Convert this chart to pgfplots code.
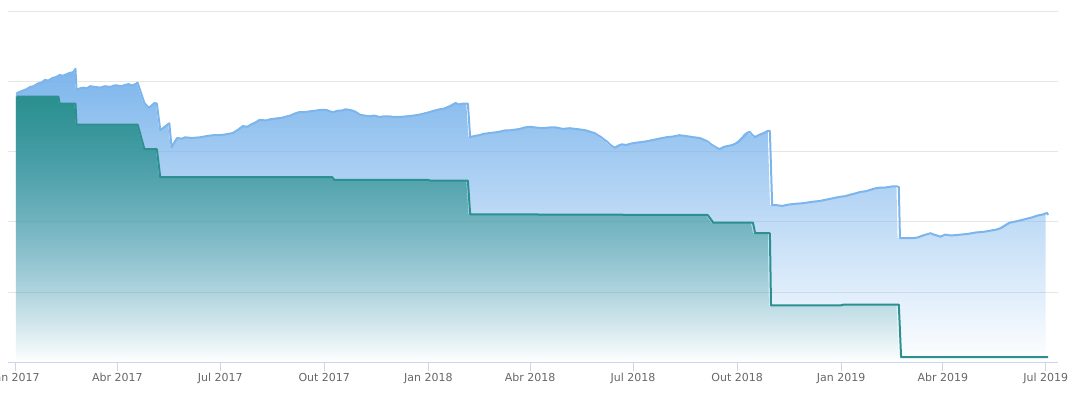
\documentclass[border=0pt]{standalone}
\usepackage{fontspec}
\setmainfont{DejaVu Sans}
\usepackage{pgfplots}
\pgfplotsset{compat=1.18}
\usetikzlibrary{fadings}
\definecolor{hcblue}{HTML}{7CB5EC}
\definecolor{hcteal}{HTML}{2B908F}
\definecolor{gridc}{HTML}{E6E6E6}
\definecolor{axisc}{HTML}{CCD6EB}
\definecolor{labc}{HTML}{666666}
\tikzfading[name=fadedown, top color=transparent!0, bottom color=transparent!100]

\pgfplotstableread{
d v
1 3.84
4 3.86
7 3.88
10 3.90
13 3.93
16 3.94
20 3.98
23 3.99
26 4.03
29 4.02
33 4.06
36 4.07
39 4.10
42 4.09
45 4.11
48 4.13
51 4.14
52 4.16
53 4.19
54 3.89
57 3.91
60 3.92
63 3.91
66 3.94
70 3.93
75 3.92
79 3.94
84 3.93
87 3.95
90 3.95
94 3.94
97 3.96
100 3.97
103 3.95
106 3.97
108 3.99
114 3.70
118 3.63
123 3.70
125 3.69
128 3.31
136 3.41
138 3.07
143 3.20
147 3.19
150 3.21
156 3.20
163 3.21
170 3.23
175 3.24
180 3.24
185 3.25
192 3.27
197 3.32
201 3.37
205 3.36
208 3.39
212 3.42
216 3.46
221 3.45
226 3.47
231 3.48
236 3.49
240 3.51
243 3.52
247 3.55
251 3.57
255 3.57
260 3.58
265 3.59
269 3.60
275 3.60
278 3.58
281 3.57
285 3.59
288 3.59
292 3.61
296 3.60
300 3.58
305 3.53
309 3.52
313 3.51
317 3.52
322 3.50
326 3.51
330 3.51
335 3.50
340 3.50
346 3.51
352 3.52
359 3.54
366 3.57
370 3.59
375 3.61
379 3.62
382 3.64
386 3.67
389 3.70
392 3.68
395 3.69
400 3.69
402 3.21
406 3.23
410 3.24
414 3.26
419 3.27
424 3.28
428 3.29
433 3.31
437 3.31
442 3.32
446 3.33
450 3.35
455 3.36
460 3.35
466 3.34
472 3.35
478 3.35
484 3.33
490 3.34
495 3.33
500 3.32
504 3.31
508 3.29
512 3.27
515 3.24
518 3.21
521 3.17
523 3.15
526 3.10
530 3.06
533 3.09
536 3.11
540 3.10
544 3.12
548 3.13
552 3.14
557 3.15
563 3.17
569 3.19
575 3.21
581 3.22
587 3.24
592 3.23
596 3.22
600 3.21
605 3.20
608 3.18
612 3.15
615 3.11
618 3.08
620 3.06
623 3.04
626 3.07
628 3.08
631 3.09
634 3.10
638 3.13
641 3.17
644 3.22
646 3.26
648 3.28
649 3.29
651 3.25
654 3.21
657 3.24
660 3.26
663 3.28
665 3.30
667 3.30
669 2.24
673 2.24
678 2.23
684 2.25
690 2.26
697 2.27
705 2.29
711 2.30
717 2.32
723 2.34
729 2.36
734 2.37
738 2.39
743 2.41
747 2.43
752 2.44
756 2.46
760 2.48
764 2.49
768 2.49
772 2.50
776 2.51
779 2.51
781 2.50
782 1.77
788 1.77
794 1.77
798 1.78
801 1.80
805 1.82
809 1.84
812 1.82
814 1.81
818 1.79
822 1.82
826 1.81
829 1.81
836 1.82
842 1.83
849 1.85
856 1.86
860 1.87
863 1.88
867 1.89
871 1.91
875 1.95
879 1.99
885 2.01
890 2.03
895 2.05
900 2.07
903 2.09
906 2.10
909 2.11
912 2.13
913 2.10
}\bluedata

\pgfplotstableread{
d v
1 3.79
38 3.79
39 3.69
53 3.69
54 3.39
108 3.39
114 3.04
125 3.04
128 2.64
280 2.64
282 2.60
365 2.60
367 2.59
400 2.59
402 2.11
612 2.10
617 1.99
652 1.99
654 1.84
667 1.84
668 0.81
730 0.81
732 0.82
781 0.82
783 0.07
913 0.07
}\tealdata

\begin{document}
\begin{tikzpicture}
\useasboundingbox (-8bp,-35bp) rectangle (1065bp,362bp);
\begin{axis}[
  at={(0,0)}, anchor=south west,
  scale only axis,
  width=1050bp, height=350bp,
  xmin=-6.63, xmax=921.7,
  ymin=0, ymax=5,
  axis x line*=bottom,
  axis y line*=left,
  y axis line style={draw=none},
  x axis line style={draw=axisc, line width=1bp},
  ytick={1,2,3,4,5},
  yticklabels={},
  y tick style={draw=none},
  ymajorgrids,
  major grid style={draw=gridc, line width=1bp},
  xtick={0,90,181,273,365,455,546,638,730,820,911},
  xticklabels={Jan 2017,Abr 2017,Jul 2017,Out 2017,Jan 2018,Abr 2018,Jul 2018,Out 2018,Jan 2019,Abr 2019,Jul 2019},
  tick align=outside,
  major tick length=9bp,
  x tick style={draw=axisc, line width=1bp},
  xticklabel style={anchor=north, yshift=1bp, font=\fontsize{11bp}{13bp}\selectfont, text=labc},
  clip=true,
]
\addplot[draw=none, fill=hcblue, path fading=fadedown] table[x=d, y=v] {\bluedata} \closedcycle;
\addplot[draw=hcblue, line width=2bp, line join=round] table[x=d, y=v] {\bluedata};
\addplot[draw=none, fill=hcteal, path fading=fadedown] table[x=d, y=v] {\tealdata} \closedcycle;
\addplot[draw=hcteal, line width=2bp, line join=round] table[x=d, y=v] {\tealdata};
\end{axis}
\end{tikzpicture}
\end{document}
